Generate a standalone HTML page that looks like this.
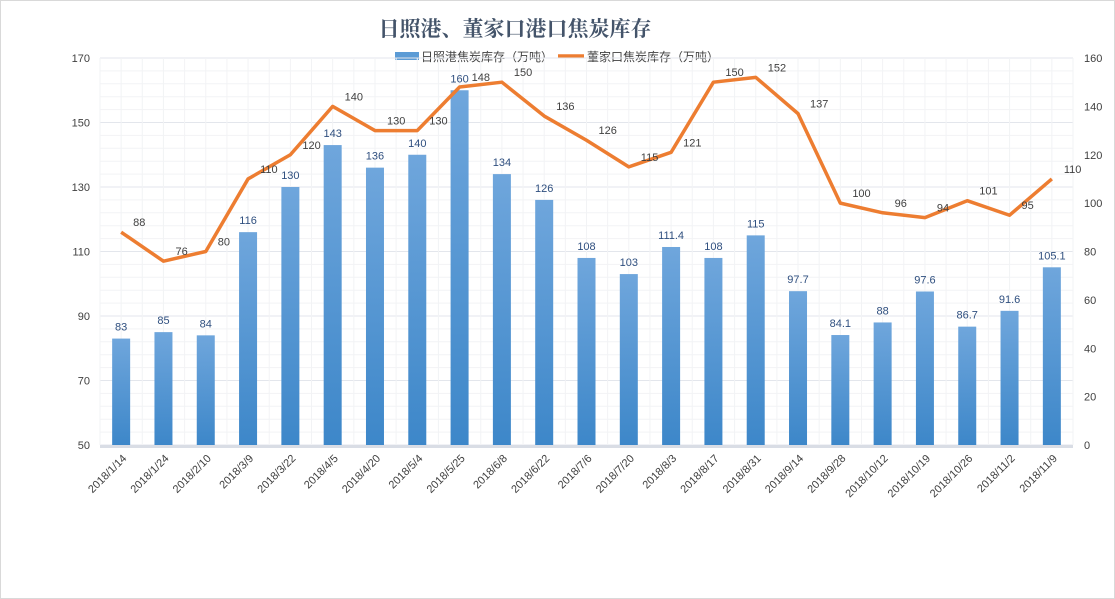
<!DOCTYPE html>
<html><head><meta charset="utf-8">
<style>
html,body{margin:0;padding:0;background:#fff;}
body{width:1115px;height:599px;overflow:hidden;font-family:"Liberation Sans","Noto Sans CJK SC",sans-serif;}
#frame{position:absolute;left:0;top:0;width:1113px;height:597px;border:1px solid #d9d9d9;}
</style></head>
<body>
<div id="frame"></div>
<svg id="chart" width="1115" height="599" style="position:absolute;left:0;top:0">
<text x="515" y="36" text-anchor="middle" font-family="'Liberation Serif','Noto Serif CJK SC',serif" font-size="21" font-weight="bold" fill="#44546a">日照港、董家口港口焦炭库存</text>
<g>
<rect x="395" y="52" width="24" height="8" fill="#5b9bd5"></rect>
<text x="421" y="61" font-size="12" fill="#404040">日照港焦炭库存（万吨）</text>
<line x1="558" y1="56" x2="584" y2="56" stroke="#ed7d31" stroke-width="3.5"></line>
<text x="587" y="61" font-size="12" fill="#404040">董家口焦炭库存（万吨）</text>
</g>
<g id="grid"></g><g id="bars"></g><g id="line"></g><g id="labels"></g><g id="axes"></g>
</svg>
<script>
const categories=["2018/1/14","2018/1/24","2018/2/10","2018/3/9","2018/3/22","2018/4/5","2018/4/20","2018/5/4","2018/5/25","2018/6/8","2018/6/22","2018/7/6","2018/7/20","2018/8/3","2018/8/17","2018/8/31","2018/9/14","2018/9/28","2018/10/12","2018/10/19","2018/10/26","2018/11/2","2018/11/9"];
const rizhao=[83,85,84,116,130,143,136,140,160,134,126,108,103,111.4,108,115,97.7,84.1,88,97.6,86.7,91.6,105.1];
const rizhaoLabels=["83","85","84","116","130","143","136","140","160","134","126","108","103","111.4","108","115","97.7","84.1","88","97.6","86.7","91.6","105.1"];
const dongjiakou=[88,76,80,110,120,140,130,130,148,150,136,126,115,121,150,152,137,100,96,94,101,95,110];
const leftTicks=[50,70,90,110,130,150,170];
const rightTicks=[0,20,40,60,80,100,120,140,160];

const NS="http://www.w3.org/2000/svg";
const X0=100,X1=1073,YT=58,YB=445;
const L0=50,L1=170,R0=0,R1=160;
const step=(X1-X0)/categories.length;
const xc=i=>X0+step*(i+0.5);
const yl=v=>YB-(v-L0)/(L1-L0)*(YB-YT);
const yr=v=>YB-(v-R0)/(R1-R0)*(YB-YT);
function mk(tag,attrs,parent){const e=document.createElementNS(NS,tag);for(const k in attrs)e.setAttribute(k,attrs[k]);parent.appendChild(e);return e;}
const grid=document.getElementById('grid'),bars=document.getElementById('bars'),line=document.getElementById('line'),labels=document.getElementById('labels'),axes=document.getElementById('axes');

// grid
for(let v=L0;v<=L1;v+=4){
  const g=mk('line',{x1:X0,x2:X1,y1:yl(v),y2:yl(v),stroke:(v-L0)%20===0?'#e3e6ec':'#f2f3f5','stroke-width':1},grid);
  
  
}
for(let i=0;i<=categories.length*2;i++){
  const x=X0+step*i/2;
  const g=mk('line',{x1:x,x2:x,y1:YT,y2:YB,stroke:'#f2f3f5','stroke-width':1},grid);
  
  
}
// gradient
const defs=mk('defs',{},document.getElementById('chart'));
const lg=mk('linearGradient',{id:'bg',x1:0,y1:0,x2:0,y2:1},defs);
mk('stop',{offset:'0','stop-color':'#6fa6dc'},lg);
mk('stop',{offset:'1','stop-color':'#3d87c9'},lg);

// bars
const bw=18;
rizhao.forEach((v,i)=>{
  const b=mk('rect',{x:xc(i)-bw/2,y:yl(v),width:bw,height:YB-yl(v),fill:'url(#bg)'},bars);
  
  
  const t=mk('text',{x:xc(i),y:yl(v)-8,'text-anchor':'middle','font-size':11,fill:'#2f4f7f'},labels);
  t.textContent=rizhaoLabels[i];
  
  
});
// line
const pts=dongjiakou.map((v,i)=>xc(i)+','+yr(v)).join(' ');
const pl=mk('polyline',{points:pts,fill:'none',stroke:'#ed7d31','stroke-width':3.5,'stroke-linejoin':'round'},line);


dongjiakou.forEach((v,i)=>{
  const t=mk('text',{x:xc(i)+12,y:yr(v)-6,'font-size':11,fill:'#404040'},labels);
  t.textContent=v;
  
  
});
// axes
const ax=mk('rect',{x:X0,y:YB,width:X1-X0,height:3,fill:'#d9dde5'},axes);


leftTicks.forEach(v=>{
  const t=mk('text',{x:90,y:yl(v)+4,'text-anchor':'end','font-size':11,fill:'#404040'},axes);
  t.textContent=v;
  
  
});
rightTicks.forEach(v=>{
  const t=mk('text',{x:1084,y:yr(v)+4,'font-size':11,fill:'#404040'},axes);
  t.textContent=v;
  
  
});
categories.forEach((c,i)=>{
  const x=xc(i)+6,y=YB+14;
  const t=mk('text',{x:x,y:y,'text-anchor':'end','font-size':11,fill:'#404040',transform:'rotate(-45 '+x+' '+y+')'},axes);
  t.textContent=c;
  
  
});
</script>
</body></html>
